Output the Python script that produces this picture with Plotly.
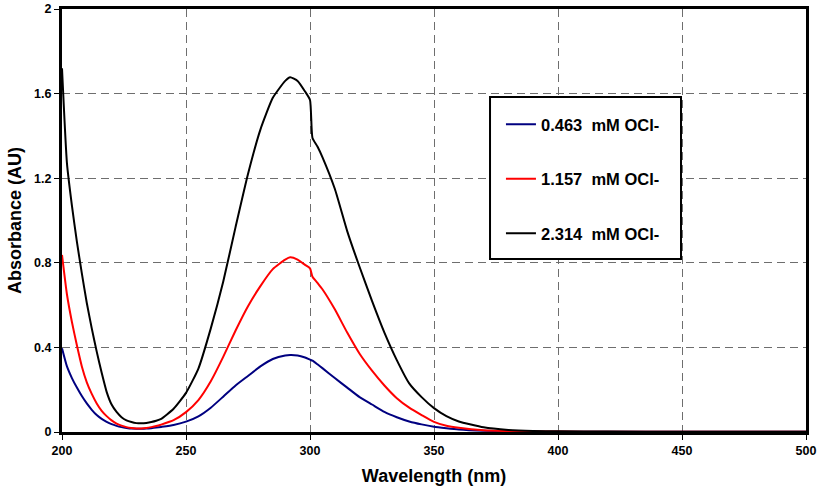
import plotly.graph_objects as go

wavelength = [200, 202, 204, 206, 208, 210, 212, 214, 216, 218, 220, 222, 224, 226, 228, 230,
              232, 234, 236, 238, 240, 245, 250, 255, 260, 265, 270, 275, 280, 285, 290, 292,
              295, 298, 300, 301, 303, 305, 310, 315, 320, 325, 330, 335, 340, 345, 350, 355,
              360, 370, 380, 390, 400, 420, 450, 500]

abs_0463 = [0.396, 0.31, 0.255, 0.21, 0.17, 0.135, 0.105, 0.08, 0.062, 0.048, 0.037, 0.029, 0.023,
            0.019, 0.016, 0.015, 0.015, 0.016, 0.018, 0.021, 0.024, 0.033, 0.049, 0.074, 0.115,
            0.167, 0.22, 0.265, 0.31, 0.345, 0.362, 0.364, 0.362, 0.352, 0.342, 0.337, 0.32,
            0.302, 0.255, 0.21, 0.165, 0.13, 0.095, 0.07, 0.05, 0.036, 0.025, 0.018, 0.012,
            0.006, 0.003, 0.002, 0.001, 0.001, 0.001, 0.001]

abs_1157 = [0.837, 0.65, 0.52, 0.41, 0.31, 0.235, 0.18, 0.135, 0.10, 0.075, 0.055, 0.04, 0.03,
            0.023, 0.019, 0.017, 0.017, 0.019, 0.023, 0.028, 0.035, 0.056, 0.094, 0.151, 0.24,
            0.355, 0.48, 0.595, 0.69, 0.77, 0.815, 0.826, 0.815, 0.79, 0.774, 0.734, 0.705,
            0.675, 0.58, 0.47, 0.37, 0.29, 0.22, 0.16, 0.115, 0.08, 0.048, 0.03, 0.02, 0.008,
            0.004, 0.002, 0.002, 0.001, 0.001, 0.001]

abs_2314 = [1.72, 1.27, 1.07, 0.90, 0.75, 0.61, 0.49, 0.38, 0.28, 0.19, 0.13, 0.095, 0.07,
            0.055, 0.047, 0.042, 0.041, 0.043, 0.047, 0.053, 0.062, 0.11, 0.185, 0.30, 0.49, 0.71,
            0.97, 1.22, 1.43, 1.58, 1.66, 1.677, 1.66, 1.61, 1.57, 1.39, 1.35, 1.30, 1.15, 0.95,
            0.78, 0.62, 0.47, 0.34, 0.23, 0.165, 0.113, 0.075, 0.05, 0.022, 0.01, 0.005, 0.003,
            0.002, 0.001, 0.001]

series_names = ["0.463\u00a0 mM OCl-", "1.157\u00a0 mM OCl-", "2.314\u00a0 mM OCl-"]
series_colors = ["#000080", "#FF0000", "#000000"]
series_values = [abs_0463, abs_1157, abs_2314]

x_ticks = [200, 250, 300, 350, 400, 450, 500]
y_ticks = [0, 0.4, 0.8, 1.2, 1.6, 2]
y_labels = ["0", "0.4", "0.8", "1.2", "1.6", "2"]

FONT = "Liberation Sans, Arial, sans-serif"

fig = go.Figure()
for i, (name, col, vals) in enumerate(zip(series_names, series_colors, series_values)):
    fig.add_trace(go.Scatter(
        x=wavelength, y=vals, mode="lines", name=name,
        line=dict(color=col, width=2, shape="spline", smoothing=0.5),
        legendgroup=f"g{i}",
    ))

axis_common = dict(
    showline=True, linecolor="black", linewidth=3, mirror=True,
    ticks="outside", ticklen=5, tickcolor="black", tickwidth=1,
    showgrid=True, gridcolor="#6e6e6e", gridwidth=1, griddash="8px,5px",
    zeroline=False, automargin=False,
    tickfont=dict(family=FONT, size=12.5, color="black", weight="bold"),
)

fig.update_xaxes(
    range=[200, 500], tickvals=x_ticks,
    title=dict(text="Wavelength (nm)", font=dict(family=FONT, size=18, color="black", weight="bold"), standoff=13),
    **axis_common,
)
fig.update_yaxes(
    range=[0, 2], tickvals=y_ticks, ticktext=y_labels,
    title=dict(text="Absorbance (AU)", font=dict(family=FONT, size=18, color="black", weight="bold"), standoff=8),
    **axis_common,
)

# legend frame
fig.add_shape(type="rect", xref="paper", yref="paper",
              x0=0.5753, x1=0.832, y0=0.409, y1=0.792,
              line=dict(color="black", width=2), fillcolor="white", layer="above")

fig.update_layout(
    width=821, height=493,
    margin=dict(l=62, r=15, t=9, b=61),
    paper_bgcolor="white", plot_bgcolor="white",
    showlegend=True,
    legend=dict(
        x=0.590, y=0.768, xanchor="left", yanchor="top",
        bgcolor="rgba(0,0,0,0)", borderwidth=0,
        font=dict(family=FONT, size=16.5, color="black", weight="bold"),
        traceorder="grouped", tracegroupgap=30, itemwidth=30,
    ),
)

fig.write_html("out.html", config={"displayModeBar": False},
               post_script="document.body.style.margin='0';document.body.style.padding='0';")
